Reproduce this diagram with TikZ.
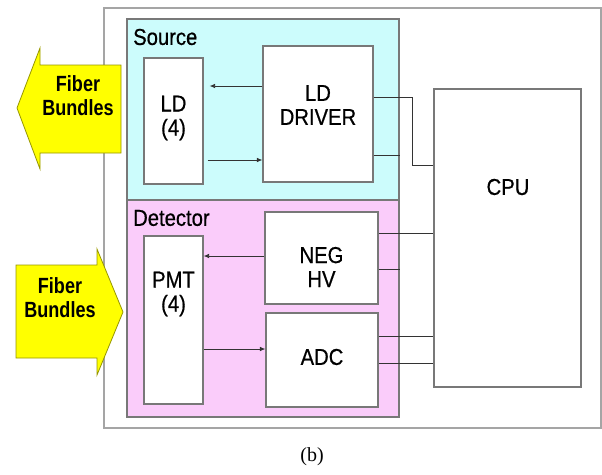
\documentclass[tikz,border=0pt]{standalone}
\usepackage{fontspec}
\setmainfont{Liberation Serif}
\newfontfamily\labfont[FakeStretch=0.88,FakeBold=0.6]{Liberation Sans}
\newfontfamily\fibfont[FakeStretch=0.82]{Liberation Sans}
\usetikzlibrary{arrows.meta}
\definecolor{cyanbg}{RGB}{204,252,252}
\definecolor{pinkbg}{RGB}{250,204,250}
\definecolor{boxline}{RGB}{120,120,120}
\definecolor{outline}{RGB}{165,165,165}
\definecolor{yel}{RGB}{255,255,0}
\definecolor{yeledge}{RGB}{150,150,0}
\begin{document}
\begin{tikzpicture}[x=1pt,y=-1pt,
  box/.style={draw=boxline,line width=1.1pt,fill=white,inner sep=0pt},
  lab/.style={font=\labfont\fontsize{23}{24}\selectfont,align=center,inner sep=0pt},
  fib/.style={font=\fibfont\bfseries\fontsize{22}{24}\selectfont,align=center,inner sep=0pt},
  conn/.style={draw=black!80,line width=0.8pt},
  arr/.style={conn,-{Latex[length=5.5pt,width=4.5pt]}},
  yarrow/.style={fill=yel,draw=yeledge,line width=0.8pt,line join=miter}
  ]
\useasboundingbox (0,0) rectangle (602,474);
% outer frame
\node[draw=outline,line width=1.4pt,fill=white,minimum width=497pt,minimum height=420pt,inner sep=0pt] (outer) at (352.5,218) {};
% groups
\node[draw=boxline,line width=1.1pt,fill=cyanbg,minimum width=272pt,minimum height=181pt,inner sep=0pt] (src) at (263,109.5) {};
\node[draw=boxline,line width=1.1pt,fill=pinkbg,minimum width=272pt,minimum height=217pt,inner sep=0pt] (det) at (263,308.5) {};
\node[lab,anchor=west] (srcT) at (133,37) {Source};
\node[lab,anchor=west] (detT) at (133,218) {Detector};
% boxes
\node[box,minimum width=59pt,minimum height=126pt] (ld) at (173.5,121) {};
\node[box,minimum width=110pt,minimum height=136pt] (drv) at (318,114) {};
\node[box,minimum width=147pt,minimum height=298pt] (cpu) at (507.5,238) {};
\node[box,minimum width=59pt,minimum height=168pt] (pmt) at (173.5,320) {};
\node[box,minimum width=113pt,minimum height=92pt] (neg) at (321.5,258) {};
\node[box,minimum width=112pt,minimum height=94pt] (adc) at (322,360) {};
% texts
\node[lab] (ldT) at (173.5,118) {LD\\(4)};
\node[lab] (drvT) at (318,105) {LD\\DRIVER};
\node[lab] (cpuT) at (508,187) {CPU};
\node[lab] (pmtT) at (173.5,294) {PMT\\(4)};
\node[lab] (negT) at (321.5,267) {NEG\\HV};
\node[lab] (adcT) at (322,357) {ADC};
% helper coordinates
\coordinate (c86) at (0,86);
\coordinate (c160) at (0,160);
\coordinate (c97) at (0,97);
\coordinate (c155) at (0,155);
\coordinate (bend) at (412,165);
\coordinate (c256) at (0,256);
\coordinate (c349) at (0,349);
\coordinate (c233) at (0,233);
\coordinate (c269) at (0,269);
\coordinate (c336) at (0,336);
\coordinate (c363) at (0,363);
% connectors
\draw[arr,shorten >=6pt] (drv.west |- c86) -- (ld.east |- c86);
\draw[arr,shorten <=4pt] (ld.east |- c160) -- (drv.west |- c160);
\draw[conn] (drv.east |- c97) -| (bend) -- (cpu.west |- bend);
\draw[conn] (drv.east |- c155) -- (src.east |- c155);
\draw[arr] (neg.west |- c256) -- (pmt.east |- c256);
\draw[arr] (pmt.east |- c349) -- (adc.west |- c349);
\draw[conn] (neg.east |- c233) -- (cpu.west |- c233);
\draw[conn] (neg.east |- c269) -- (det.east |- c269);
\draw[conn] (adc.east |- c336) -- (cpu.west |- c336);
\draw[conn] (adc.east |- c363) -- (cpu.west |- c363);
% yellow arrows
\draw[yarrow] (121,65) -- (40,65) -- (40,48) -- (17,108) -- (40,169) -- (40,153) -- (121,153) -- cycle;
\node[fib] (fib1) at (78,96) {Fiber\\Bundles};
\draw[yarrow] (16,265) -- (97,265) -- (97,249) -- (123,312) -- (97,375) -- (97,358) -- (16,358) -- cycle;
\node[fib] (fib2) at (60,298) {Fiber\\Bundles};
% caption
\node[font=\fontsize{20}{22}\selectfont,inner sep=0pt] (cap) at (312,457) {(b)};
\end{tikzpicture}
\end{document}
